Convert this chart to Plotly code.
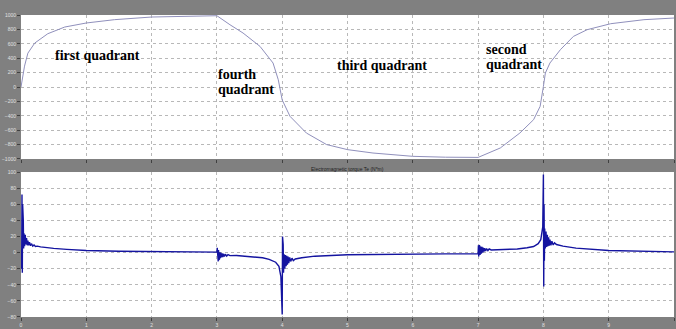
import plotly.graph_objects as go

# ---------------- data ----------------
speed_t = [0, 0.03, 0.054, 0.105, 0.21, 0.41, 0.67, 1.0, 1.43, 2.0, 2.5, 3.0,
           3.2, 3.4, 3.66, 3.86, 3.94, 3.98, 4.0, 4.12, 4.37, 4.68, 5.0, 5.39,
           6.0, 6.5, 7.0, 7.34, 7.64, 7.85, 7.95, 8.0, 8.03, 8.1, 8.26, 8.46,
           8.67, 9.03, 9.54, 10.0]
speed_w = [0, 200, 290, 470, 610, 740, 833, 889, 935, 972, 985, 990,
           865, 750, 564, 333, 101, -100, -180, -408, -639, -800, -870, -917,
           -963, -975, -978, -847, -639, -454, -269, 8, 194, 333, 518, 703,
           796, 879, 935, 958]

torque_t = [0.000, 0.005, 0.010, 0.015, 0.020, 0.025, 0.030, 0.035, 0.040, 0.045,
            0.050, 0.055, 0.065, 0.075, 0.085, 0.095, 0.105, 0.115, 0.13, 0.145,
            0.16, 0.18, 0.20, 0.22, 0.25, 0.3, 0.4, 0.5, 0.7, 1.0,
            1.5, 2.0, 2.5, 3.0,
            3.005, 3.010, 3.015, 3.020, 3.025, 3.030, 3.035, 3.040, 3.045, 3.050,
            3.060, 3.070, 3.080, 3.090, 3.100, 3.115, 3.130, 3.150, 3.170, 3.200,
            3.300, 3.5, 3.7, 3.8, 3.9, 3.95, 3.98, 4.00,
            4.005, 4.010, 4.015, 4.020, 4.030, 4.040, 4.050, 4.060, 4.070, 4.080,
            4.090, 4.100, 4.115, 4.130, 4.150, 4.170, 4.200, 4.3, 4.5, 5.0,
            5.5, 6.0, 6.5, 7.0,
            7.005, 7.010, 7.015, 7.020, 7.025, 7.030, 7.040, 7.050, 7.060, 7.070,
            7.080, 7.090, 7.100, 7.115, 7.130, 7.150, 7.170, 7.200, 7.4, 7.6,
            7.75, 7.85, 7.92, 7.96, 7.99, 8.00,
            8.005, 8.010, 8.015, 8.020, 8.030, 8.040, 8.050, 8.060, 8.070, 8.080,
            8.090, 8.100, 8.115, 8.130, 8.150, 8.170, 8.200, 8.3, 8.5, 9.0,
            9.5, 10.0]
torque_te = [0, 70, -20, 72, -25, 60, -15, 40, 5, 24,
             20, 8, 22, 10, 18, 9, 15, 9, 13, 8.5,
             11, 8, 9.5, 7.5, 8, 7, 6, 5.2, 4, 2.6,
             1.6, 1.1, 0.8, 0.6,
             6, -10, 5, -11, 3, -9, 2, -8, 0.5, -7,
             -0.5, -6, -1, -5.5, -1.5, -5, -2, -4.5, -2.5, -3.8,
             -3.6, -4.8, -6.5, -8.5, -12, -17, -30, -77,
             20, -60, 10, -25, -2, -20, -3, -17, -4, -15,
             -5, -13, -6, -11, -7, -10, -8, -6.5, -4.5, -2.8,
             -2.2, -1.8, -1.6, -1.5,
             9, -5, 9, -4, 8, -3, 7.5, -1.5, 7, 0,
             6, 1, 5.5, 2, 5, 2.5, 4.5, 3.2, 3.6, 4.5,
             6, 7.5, 11, 16, 32, 97,
             -42, 60, -10, 30, 5, 26, 7, 22, 8, 19,
             8.5, 16, 9, 14, 9.5, 12, 10, 8, 5.5, 2.5,
             1.2, 0.8]

x_ticks = [0, 1, 2, 3, 4, 5, 6, 7, 8, 9, 10]
speed_ticks = [-1000, -800, -600, -400, -200, 0, 200, 400, 600, 800, 1000]
torque_ticks = [-80, -60, -40, -20, 0, 20, 40, 60, 80, 100]

# quadrant label lines (each line placed separately)
label_lines = ["first quadrant", "fourth", "quadrant", "third quadrant", "second", "quadrant"]
label_t = [0.5, 3.0, 3.0, 4.82, 7.1, 7.1]
label_v = [435, 171, -37, 296, 518, 310]

# ---------------- figure ----------------
BG = "#808080"
GRID = "#b8b8b8"
TICKFONT = dict(family="Liberation Sans", size=5, color="#e0e0e0")

fig = go.Figure()
fig.add_trace(go.Scatter(x=speed_t, y=speed_w, mode="lines",
                         line=dict(color="#9090bc", width=1), xaxis="x", yaxis="y",
                         showlegend=False, hoverinfo="skip"))
fig.add_trace(go.Scatter(x=torque_t, y=torque_te, mode="lines",
                         line=dict(color="#1414a0", width=1.4), xaxis="x2", yaxis="y2",
                         showlegend=False, hoverinfo="skip"))

axis_common = dict(showgrid=True, gridcolor=GRID, griddash="dot", gridwidth=1,
                   zeroline=False, showline=False, ticks="outside", ticklen=3,
                   tickcolor="#404040", tickfont=TICKFONT, fixedrange=True,
                   automargin=False)

fig.update_layout(
    width=676, height=329,
    paper_bgcolor=BG, plot_bgcolor="white",
    margin=dict(l=21, r=2, t=15, b=12, autoexpand=False),
    xaxis=dict(domain=[0, 1], anchor="y", range=[0, 10], tickvals=x_ticks,
               showticklabels=False, **axis_common),
    yaxis=dict(domain=[0.5232, 1], anchor="x", range=[-1000, 1000],
               tickvals=speed_ticks, **axis_common),
    xaxis2=dict(domain=[0, 1], anchor="y2", range=[0, 10], tickvals=x_ticks,
                ticklabelstandoff=0, **axis_common),
    yaxis2=dict(domain=[0, 0.4801], anchor="x2", range=[-80, 100],
                tickvals=torque_ticks, **axis_common),
)

for txt, tx, vy in zip(label_lines, label_t, label_v):
    fig.add_annotation(x=tx, y=vy, xref="x", yref="y", text="<b>" + txt + "</b>",
                       showarrow=False, xanchor="left", yanchor="middle", align="left",
                       borderpad=0,
                       font=dict(family="Liberation Serif", size=14, color="black"))

fig.add_annotation(x=0.5, y=0.490, xref="paper", yref="paper",
                   text="Electromagnetic torque Te (N*m)", showarrow=False,
                   font=dict(family="Liberation Sans", size=5, color="#202020"))

fig.write_html("out.html", config={"displayModeBar": False},
               post_script="document.body.style.margin='0';document.body.style.overflow='hidden';")
